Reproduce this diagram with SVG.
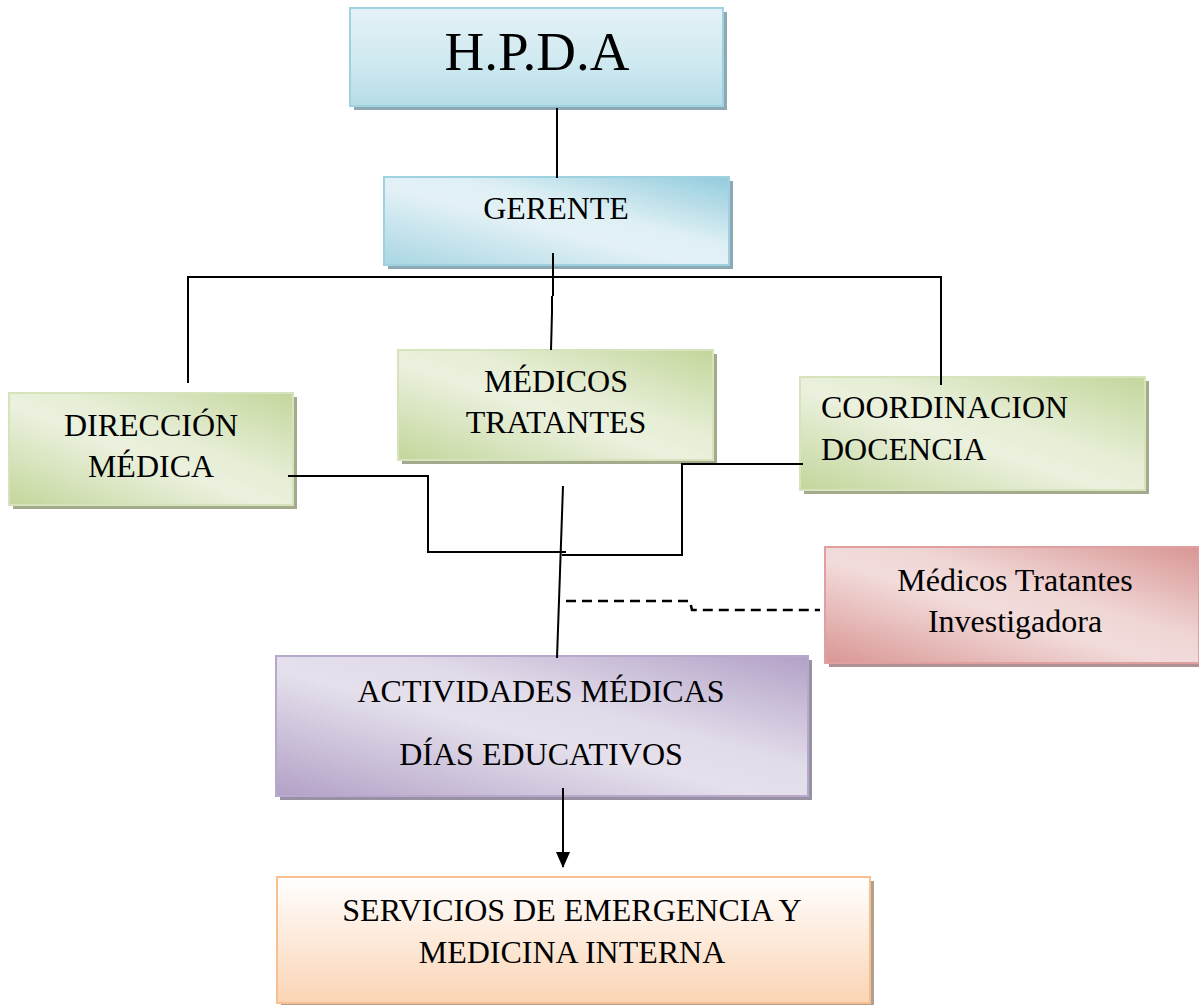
<svg xmlns="http://www.w3.org/2000/svg" width="1199" height="1005" viewBox="0 0 1199 1005">
<defs>
<linearGradient id="gBlueV" x1="0" y1="0" x2="0" y2="1">
<stop offset="0" stop-color="#e4f2f6"/><stop offset="0.5" stop-color="#d2eaf1"/><stop offset="1" stop-color="#b6dde7"/>
</linearGradient>
<linearGradient id="gBlue" x1="0" y1="1" x2="1" y2="0">
<stop offset="0" stop-color="#a8d6e3"/><stop offset="0.45" stop-color="#e3f1f6"/><stop offset="0.6" stop-color="#dff0f5"/><stop offset="1" stop-color="#92cbdc"/>
</linearGradient>
<linearGradient id="gGreen" x1="0" y1="1" x2="1" y2="0">
<stop offset="0" stop-color="#c3d69b"/><stop offset="0.45" stop-color="#ebf1de"/><stop offset="0.6" stop-color="#e6eed5"/><stop offset="1" stop-color="#c3d69b"/>
</linearGradient>
<linearGradient id="gRed" x1="0" y1="1" x2="1" y2="0">
<stop offset="0" stop-color="#d99694"/><stop offset="0.45" stop-color="#f2dcdb"/><stop offset="0.6" stop-color="#efd6d5"/><stop offset="1" stop-color="#d99694"/>
</linearGradient>
<linearGradient id="gPurple" x1="0" y1="1" x2="1" y2="0">
<stop offset="0" stop-color="#b2a1c7"/><stop offset="0.45" stop-color="#e5e0ec"/><stop offset="0.6" stop-color="#e2dcea"/><stop offset="1" stop-color="#b2a1c7"/>
</linearGradient>
<linearGradient id="gOrange" x1="0" y1="0" x2="0" y2="1">
<stop offset="0" stop-color="#ffffff"/><stop offset="1" stop-color="#fbd4b4"/>
</linearGradient>
<marker id="arrow" markerWidth="16" markerHeight="14" refX="15" refY="7" orient="auto" markerUnits="userSpaceOnUse" viewBox="0 0 16 14">
<path d="M0,0 L16,7 L0,14 Z" fill="#000"/>
</marker>
</defs>
<style>
text{font-family:"Liberation Serif","Times New Roman",serif;fill:#000;}
.t{font-size:32px;text-anchor:middle;}
.tl{font-size:32px;text-anchor:start;}
.sh{stroke:none;}
.c{fill:none;stroke:#000;stroke-width:2;}
.d{fill:none;stroke:#000;stroke-width:2.5;stroke-dasharray:10,6;}
</style>
<rect width="1199" height="1005" fill="#fff"/>

<g id="hpda">
<rect class="sh" x="354" y="12" width="373" height="98" fill="#8fa9b4"/>
<rect x="350" y="8" width="373" height="98" fill="url(#gBlueV)" stroke="#9ed2e1" stroke-width="2"/>
<text x="537" y="70" style="font-size:55px;text-anchor:middle;">H.P.D.A</text>
</g>

<g id="gerente">
<rect class="sh" x="388" y="181" width="345" height="88" fill="#8fa9b4"/>
<rect x="384" y="177" width="345" height="88" fill="url(#gBlue)" stroke="#9ed2e1" stroke-width="2"/>
<text class="t" x="556" y="219">GERENTE</text>
</g>

<g id="direccion">
<rect class="sh" x="13" y="397" width="284" height="112" fill="#a3ab8c"/>
<rect x="9" y="393" width="284" height="112" fill="url(#gGreen)" stroke="#d6e3bc" stroke-width="2"/>
<text class="t" x="151" y="436">DIRECCIÓN</text>
<text class="t" x="151" y="477">MÉDICA</text>
</g>

<g id="medicos">
<rect class="sh" x="402" y="354" width="315" height="110" fill="#a3ab8c"/>
<rect x="398" y="350" width="315" height="110" fill="url(#gGreen)" stroke="#d6e3bc" stroke-width="2"/>
<text class="t" x="556" y="392">MÉDICOS</text>
<text class="t" x="556" y="433">TRATANTES</text>
</g>

<g id="coordinacion">
<rect class="sh" x="804" y="381" width="345" height="113" fill="#a3ab8c"/>
<rect x="800" y="377" width="345" height="113" fill="url(#gGreen)" stroke="#d6e3bc" stroke-width="2"/>
<text class="tl" x="821" y="418">COORDINACION</text>
<text class="tl" x="821" y="460">DOCENCIA</text>
</g>

<g id="investigadora">
<rect class="sh" x="829" y="551" width="374" height="116" fill="#b09090"/>
<rect x="825" y="547" width="374" height="116" fill="url(#gRed)" stroke="#e0a0a0" stroke-width="2"/>
<text class="t" x="1015" y="591">Médicos Tratantes</text>
<text class="t" x="1015" y="632">Investigadora</text>
</g>

<g id="actividades">
<rect class="sh" x="280" y="660" width="532" height="140" fill="#9890a3"/>
<rect x="276" y="656" width="532" height="140" fill="url(#gPurple)" stroke="#b8a8cc" stroke-width="2"/>
<text class="t" x="541" y="702">ACTIVIDADES MÉDICAS</text>
<text class="t" x="541" y="765">DÍAS EDUCATIVOS</text>
</g>

<g id="servicios">
<rect class="sh" x="281" y="881" width="593" height="126" fill="#b0a090"/>
<rect x="277" y="877" width="593" height="126" fill="url(#gOrange)" stroke="#fabf8f" stroke-width="2"/>
<text class="t" x="572" y="921">SERVICIOS DE EMERGENCIA Y</text>
<text class="t" x="572" y="963">MEDICINA INTERNA</text>
</g>

<g id="connectors">
<line class="c" x1="557" y1="108" x2="557" y2="178"/>
<line class="c" x1="553" y1="253" x2="553" y2="296"/>
<line class="c" x1="552" y1="296" x2="552" y2="312" stroke-width="3"/>
<line class="c" x1="552" y1="312" x2="551" y2="350"/>
<polyline class="c" points="188,383 188,277 941,277 941,385"/>
<polyline class="c" points="288,476 428,476 428,552 566,552"/>
<polyline class="c" points="803,464 682,464 682,555 562,555"/>
<line class="c" x1="563" y1="486" x2="557" y2="658"/>
<polyline class="d" points="566,601 690,601 692,610 820,610"/>
<line class="c" x1="563" y1="788" x2="563" y2="867" marker-end="url(#arrow)"/>
</g>
</svg>
